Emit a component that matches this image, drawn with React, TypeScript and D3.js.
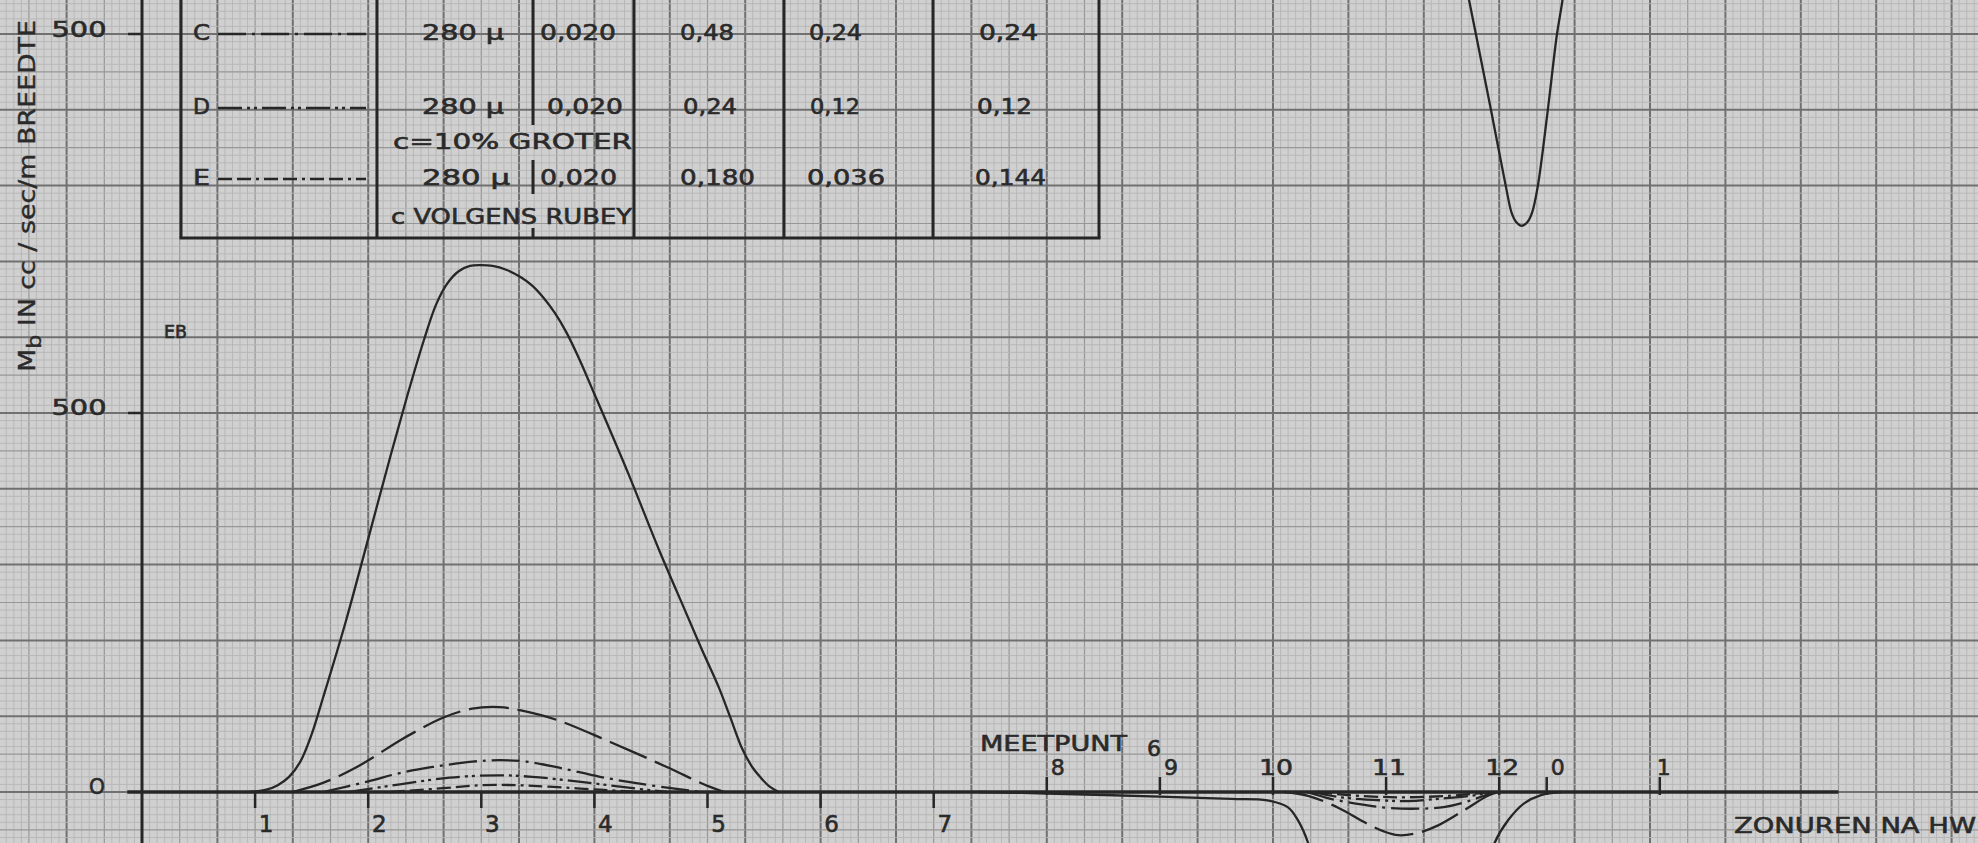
import React from 'react';
import * as d3 from 'd3';

type Pt = [number, number];

// ---------- DATA ----------
// EB (ebb) curves, hours after HW vs M_b (cc/sec/m)
const ebA: Pt[] = [[0.95,0],[1.1,3],[1.2,9],[1.3,20],[1.4,40],[1.5,76],[1.6,124],[1.8,224],[2.0,334],[2.2,445],[2.35,525],[2.49,595],[2.6,643],[2.7,671],[2.8,687],[2.9,694],[3.0,695],[3.1,694],[3.22,689],[3.35,679],[3.45,668],[3.55,652],[3.65,632],[3.75,607],[3.87,570],[4.0,525],[4.07,501],[4.3,420],[4.57,320],[4.8,240],[4.95,188],[5.1,138],[5.2,99],[5.31,56],[5.4,32],[5.47,19],[5.55,7],[5.63,0]];
const ebB: Pt[] = [[1.33,0],[1.6,12],[1.9,33],[2.28,68],[2.41,79],[2.66,98],[2.92,110],[3.16,112],[3.34,108],[3.67,95],[4.14,66],[4.64,33],[5.0,8],[5.15,0]];
const ebC: Pt[] = [[1.6,0],[2.0,14],[2.28,25],[2.57,33],[2.92,40],[3.16,42],[3.4,40],[3.69,32],[4.05,20],[4.4,11],[4.78,3],[4.95,0]];
const ebD: Pt[] = [[1.83,0],[2.28,10],[2.72,19],[3.16,22],[3.45,20],[3.9,13],[4.34,5],[4.64,0]];
const ebE: Pt[] = [[2.2,0],[2.66,5],[3.01,9],[3.31,9],[3.6,7],[4.05,3],[4.4,0]];

// VLOED (flood) curves, negative
const vlA: Pt[] = [[7.4,0],[8.0,-2],[9.0,-6],[9.63,-9],[9.95,-11],[10.13,-20],[10.22,-37],[10.31,-67],[10.45,-150],[10.7,-280],[11.1,-360],[11.5,-300],[11.8,-150],[11.96,-67],[12.08,-37],[12.22,-15],[12.37,-4],[12.55,0]];
const vlB: Pt[] = [[10.1,0],[10.31,-5],[10.58,-21],[10.81,-40],[10.98,-52],[11.11,-57],[11.28,-54],[11.46,-44],[11.69,-24],[11.9,-5],[12.0,0]];
const vlC: Pt[] = [[10.3,0],[10.51,-9],[10.81,-17],[11.02,-21],[11.28,-22],[11.51,-20],[11.75,-11],[11.95,0]];
const vlD: Pt[] = [[10.35,0],[10.6,-7],[10.96,-11],[11.2,-12],[11.46,-9],[11.75,-5],[11.95,0]];
const vlE: Pt[] = [[10.4,0],[10.66,-4],[11.11,-7],[11.55,-5],[11.95,0]];

// upper panel curve (visible part)
const topCurve: Pt[] = [[11.44,760],[11.733,545],[11.795,499],[11.927,400],[12.06,298],[12.11,264],[12.15,252],[12.2,247],[12.25,252],[12.29,264],[12.34,298],[12.43,400],[12.51,499],[12.56,545],[12.75,760]];

const lowerTickHours = [1, 2, 3, 4, 5, 6, 7];
const upperTickHours = [8, 9, 10, 11, 12, 12.42, 13.42];
const upperTickLabels = ['8', '9', '10', '11', '12', '0', '1'];

const legendKeys = ['C', 'D', 'E'];
const grainSizes = ['280 μ', '280 μ', '280 μ'];
const colC = ['0,020', '0,020', '0,020'];
const col1 = ['0,48', '0,24', '0,180'];
const col2 = ['0,24', '0,12', '0,036'];
const col3 = ['0,24', '0,12', '0,144'];
const notes = ['c=10% GROTER', 'c VOLGENS RUBEY'];

// ---------- STYLE ----------
const W = 1978, H = 843;
const INK = '#262626';
const BG = '#d0d0d0';
const FONT = '"DejaVu Sans", sans-serif';

const x = d3.scaleLinear().domain([0, 15]).range([142, 142 + 15 * 113.1]);
const y = d3.scaleLinear().domain([0, 500]).range([792, 413]);
const yTop = d3.scaleLinear().domain([0, 500]).range([413, 34]);

// paper grid (mm)
const gx = d3.scaleLinear().domain([0, 10]).range([142, 142 + 75.4]);
const gy = d3.scaleLinear().domain([0, 10]).range([792, 792 - 75.8]);

const line = d3.line<Pt>().x(d => x(d[0])).y(d => y(d[1])).curve(d3.curveCatmullRom.alpha(0.5));
const lineTop = d3.line<Pt>().x(d => x(d[0])).y(d => yTop(d[1])).curve(d3.curveCatmullRom.alpha(0.5));

const dashA = undefined;
const dashB = '40 9';
const dashC = '28 6 3 6';
const dashD = '24 5 3 4 3 5';
const dashE = '14 5 14 5 3 5';

const rowY = [33, 107, 178];
const noteY = [142, 217];

function T(props: { x: number; y: number; w?: number; size?: number; anchor?: string; children: any }) {
  const { x: tx, y: ty, w, size = 21, anchor = 'start', children } = props;
  return (
    <text
      x={tx}
      y={ty}
      fontSize={size}
      fontFamily={FONT}
      fill="#2a2a2a"
      stroke="#2a2a2a"
      strokeWidth={0.6}
      textAnchor={anchor}
      dominantBaseline="central"
      textLength={w}
      lengthAdjust={w ? 'spacingAndGlyphs' : undefined}
    >
      {children}
    </text>
  );
}

export default function App() {
  const vLines = d3.range(-19, 244);
  const hLines = d3.range(-7, 106);
  const gridStyle = (k: number) =>
    k % 10 === 0 ? { stroke: '#707070', w: 2 } : k % 5 === 0 ? { stroke: '#979797', w: 1.2 } : { stroke: '#b6b6b6', w: 0.9 };

  const curves: { d: Pt[]; dash?: string }[] = [
    { d: ebA, dash: dashA }, { d: ebB, dash: dashB }, { d: ebC, dash: dashC }, { d: ebD, dash: dashD }, { d: ebE, dash: dashE },
    { d: vlA, dash: dashA }, { d: vlB, dash: dashB }, { d: vlC, dash: dashC }, { d: vlD, dash: dashD }, { d: vlE, dash: dashE },
  ];
  const legendDash = [dashC, dashD, dashE];

  const widthsGrain = [82, 82, 88];
  const xC = [540, 547, 540];
  const wC = [76, 76, 77];
  const x1 = [680, 683, 680];
  const w1 = [54, 54, 75];
  const x2 = [809, 810, 807];
  const w2 = [53, 50, 78];
  const x3 = [979, 977, 975];
  const w3 = [59, 55, 71];

  const upperOffset = (lbl: string) => (lbl.length > 1 ? 3 : lbl === '1' ? 4 : 11);

  return (
    <svg width={W} height={H} style={{ position: 'absolute', left: 0, top: 0, background: BG }}>
      <rect x={0} y={0} width={W} height={H} fill={BG} />
      {/* graph paper */}
      {vLines.map(k => {
        const s = gridStyle(k);
        const px = gx(k);
        return <line key={'v' + k} x1={px} x2={px} y1={0} y2={H} stroke={s.stroke} strokeWidth={s.w} />;
      })}
      {hLines.map(k => {
        const s = gridStyle(k);
        const py = gy(k);
        return <line key={'h' + k} x1={0} x2={W} y1={py} y2={py} stroke={s.stroke} strokeWidth={s.w} />;
      })}

      {/* table */}
      <g stroke={INK} strokeWidth={3} fill="none">
        {[181, 377, 634, 784, 933, 1099].map(px => (
          <line key={'tv' + px} x1={px} x2={px} y1={0} y2={238} />
        ))}
        <line x1={533} x2={533} y1={0} y2={125} />
        <line x1={533} x2={533} y1={160} y2={194} />
        <line x1={533} x2={533} y1={228} y2={238} />
        <line x1={179.5} x2={1100.5} y1={238} y2={238} />
      </g>
      {legendKeys.map((k, i) => (
        <g key={'row' + k}>
          <T x={193} y={rowY[i]} w={17}>{k}</T>
          <line x1={218} x2={366} y1={rowY[i] + 1} y2={rowY[i] + 1} stroke={INK} strokeWidth={2.4} strokeDasharray={legendDash[i]} />
          <T x={422} y={rowY[i]} w={widthsGrain[i]}>{grainSizes[i]}</T>
          <T x={xC[i]} y={rowY[i]} w={wC[i]}>{colC[i]}</T>
          <T x={x1[i]} y={rowY[i]} w={w1[i]}>{col1[i]}</T>
          <T x={x2[i]} y={rowY[i]} w={w2[i]}>{col2[i]}</T>
          <T x={x3[i]} y={rowY[i]} w={w3[i]}>{col3[i]}</T>
        </g>
      ))}
      <T x={393} y={noteY[0]} w={239}>{notes[0]}</T>
      <T x={391} y={noteY[1]} w={241}>{notes[1]}</T>

      {/* axes */}
      <line x1={142} x2={142} y1={0} y2={H} stroke={INK} strokeWidth={3} />
      <line x1={x(-0.13)} x2={x(15)} y1={y(0)} y2={y(0)} stroke={INK} strokeWidth={3.5} />
      <line x1={128} x2={142} y1={y(500)} y2={y(500)} stroke={INK} strokeWidth={2.5} />
      <line x1={128} x2={142} y1={yTop(500)} y2={yTop(500)} stroke={INK} strokeWidth={2.5} />
      <T x={79} y={y(500) - 6} w={55} size={22} anchor="middle">500</T>
      <T x={79} y={yTop(500) - 5} w={55} size={22} anchor="middle">500</T>
      <T x={97} y={y(0) - 6} w={16} size={22} anchor="middle">O</T>

      {lowerTickHours.map(h => (
        <g key={'lt' + h}>
          <line x1={x(h)} x2={x(h)} y1={y(0)} y2={y(0) + 16} stroke={INK} strokeWidth={2.5} />
          <T x={x(h) + 11} y={824} size={23} anchor="middle">{String(h)}</T>
        </g>
      ))}
      {upperTickHours.map((h, i) => (
        <g key={'ut' + h}>
          <line x1={x(h)} x2={x(h)} y1={y(0) - 15} y2={y(0) + 3} stroke={INK} strokeWidth={2.5} />
          <T x={x(h) + upperOffset(upperTickLabels[i])} y={767} size={22} anchor="middle" w={upperTickLabels[i].length > 1 ? 34 : undefined}>
            {upperTickLabels[i]}
          </T>
        </g>
      ))}

      {/* curves */}
      <g fill="none" stroke={INK} strokeWidth={2.3} strokeLinecap="butt">
        {curves.map((c, i) => (
          <path key={'c' + i} d={line(c.d) || ''} strokeDasharray={c.dash} />
        ))}
        <path d={lineTop(topCurve) || ''} />
      </g>

      {/* labels */}
      <T x={164} y={332} w={23} size={17}>EB</T>
      <T x={980} y={743} w={147} size={22}>MEETPUNT</T>
      <T x={1147} y={748} w={14} size={22}>6</T>
      <T x={1734} y={825} w={242} size={22}>ZONUREN NA HW</T>
      <text
        transform="translate(27,372) rotate(-90)"
        fontSize={23}
        fontFamily={FONT}
        fill="#2a2a2a"
        stroke="#2a2a2a"
        strokeWidth={0.4}
        dominantBaseline="central"
        textLength={352}
        lengthAdjust="spacingAndGlyphs"
      >
        M<tspan fontSize={19} dy={7}>b</tspan><tspan dy={-7}> IN cc / sec/m BREEDTE</tspan>
      </text>
    </svg>
  );
}
